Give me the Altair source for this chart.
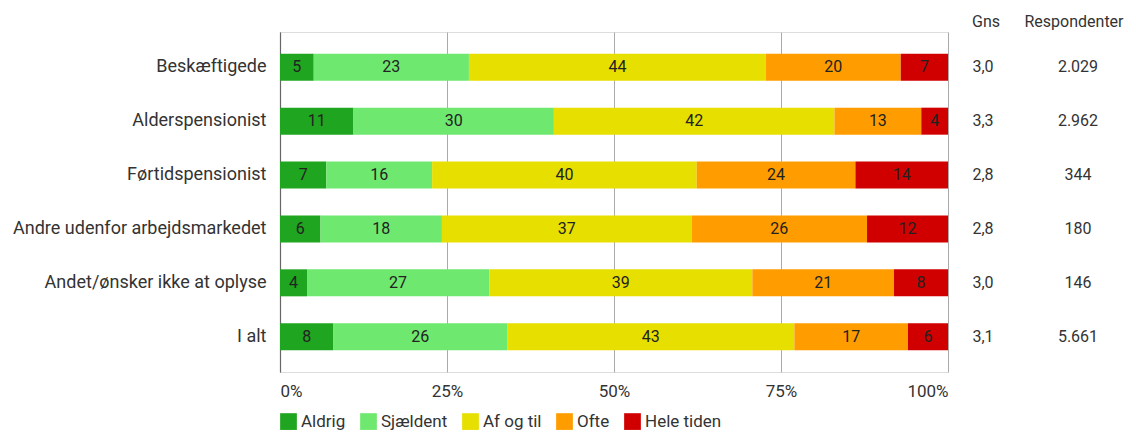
import altair as alt
import pandas as pd

categories = ["Beskæftigede", "Alderspensionist", "Førtidspensionist",
              "Andre udenfor arbejdsmarkedet", "Andet/ønsker ikke at oplyse", "I alt"]
answers = ["Aldrig", "Sjældent", "Af og til", "Ofte", "Hele tiden"]
colors = ["#1fa51f", "#6fe86f", "#e6df00", "#ff9d00", "#d00000"]

aldrig = [5, 11, 7, 6, 4, 8]
sjaeldent = [23, 30, 16, 18, 27, 26]
af_og_til = [44, 42, 40, 37, 39, 43]
ofte = [20, 13, 24, 26, 21, 17]
hele_tiden = [7, 4, 14, 12, 8, 6]
gns = ["3,0", "3,3", "2,8", "2,8", "3,0", "3,1"]
respondenter = ["2.029", "2.962", "344", "180", "146", "5.661"]

series = [aldrig, sjaeldent, af_og_til, ofte, hele_tiden]
rows = []
for ci, c in enumerate(categories):
    for ai, a in enumerate(answers):
        rows.append({"cat": c, "answer": a, "order": ai, "value": series[ai][ci]})
df = pd.DataFrame(rows)
side = pd.DataFrame({"cat": categories, "gns": gns, "resp": respondenter})
heads = pd.DataFrame({"h": ["Gns", "Respondenter"], "pos": ["g", "r"]})

FONT = "Roboto"
TXT = "#333"

y_enc = alt.Y("cat:N", sort=categories, title=None,
              scale=alt.Scale(paddingInner=0.49, paddingOuter=0.4),
              axis=alt.Axis(labelFontSize=18, labelColor=TXT, labelPadding=14,
                            labelLimit=400, ticks=False, domain=True,
                            domainColor="#666", domainWidth=1.2, labelFont=FONT))

base = alt.Chart(df).transform_stack(
    stack="value", groupby=["cat"], as_=["s0", "s1"],
    offset="normalize", sort=[alt.SortField("order")]
).transform_calculate(mid="(datum.s0 + datum.s1) / 2")

bars = base.mark_bar(size=27).encode(
    x=alt.X("s0:Q", scale=alt.Scale(domain=[0, 1]), title=None,
            axis=alt.Axis(values=[0, 0.25, 0.5, 0.75, 1], format="%", labelFlush=True,
                          domain=False, ticks=False, grid=True, gridColor="#aaa",
                          labelFontSize=17, labelColor=TXT, labelPadding=11,
                          labelFont=FONT)),
    x2="s1:Q",
    y=y_enc,
    color=alt.Color("answer:N", scale=alt.Scale(domain=answers, range=colors),
                    sort=answers, title=None,
                    legend=alt.Legend(orient="none", legendX=0, legendY=381,
                                      direction="horizontal", symbolType="square",
                                      symbolSize=280, symbolStrokeWidth=0,
                                      labelFontSize=17, labelColor=TXT,
                                      labelFont=FONT, labelOffset=4,
                                      columnPadding=14, symbolOpacity=1)),
)

labels = base.mark_text(fontSize=16, color="#222", font=FONT).encode(
    x="mid:Q",
    y=alt.Y("cat:N", sort=categories),
    text=alt.Text("value:Q"),
)

gns_txt = alt.Chart(side).mark_text(fontSize=16, color=TXT, font=FONT, align="center").encode(
    x=alt.value(703), y=alt.Y("cat:N", sort=categories), text="gns:N")
resp_txt = alt.Chart(side).mark_text(fontSize=16, color=TXT, font=FONT, align="center").encode(
    x=alt.value(798), y=alt.Y("cat:N", sort=categories), text="resp:N")

head_g = alt.Chart(heads).transform_filter("datum.pos == 'g'").mark_text(
    fontSize=16, color=TXT, font=FONT, align="center").encode(
    x=alt.value(706), y=alt.value(-10), text="h:N")
head_r = alt.Chart(heads).transform_filter("datum.pos == 'r'").mark_text(
    fontSize=16, color=TXT, font=FONT, align="center").encode(
    x=alt.value(794), y=alt.value(-10), text="h:N")

chart = alt.layer(bars, labels, gns_txt, resp_txt, head_g, head_r).properties(
    width=668, height=340,
    autosize=alt.AutoSizeParams(type="none"),
    padding={"left": 272, "top": 24, "right": 180, "bottom": 60},
).configure_view(stroke=None).configure(font=FONT)

chart.save("out.html", embed_options={"renderer": "svg", "actions": False})
